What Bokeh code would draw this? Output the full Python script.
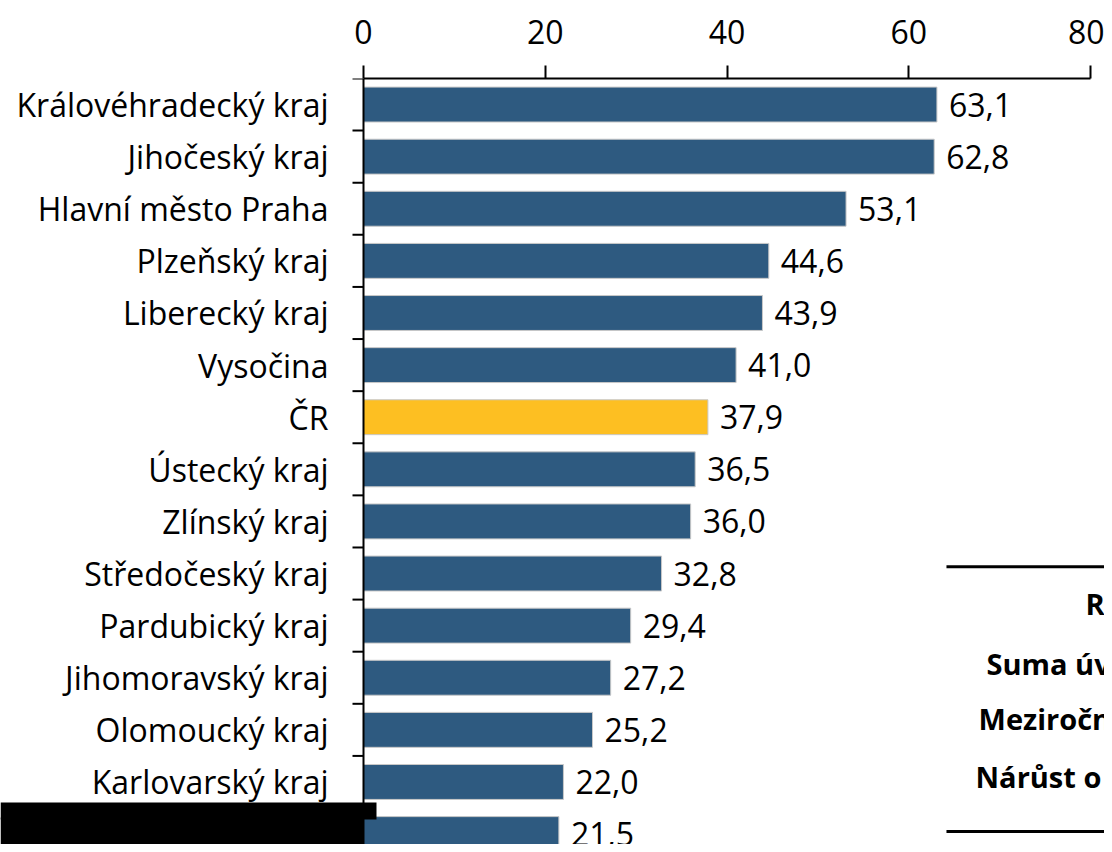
import math
from bokeh.plotting import figure
from bokeh.models import Range1d, LinearAxis, FixedTicker, BoxAnnotation, Span, ColumnDataSource
from bokeh.embed import file_html
from bokeh.resources import INLINE
from bokeh.core.properties import value

categories = ["Královéhradecký kraj", "Jihočeský kraj", "Hlavní město Praha", "Plzeňský kraj",
              "Liberecký kraj", "Vysočina", "ČR", "Ústecký kraj", "Zlínský kraj",
              "Středočeský kraj", "Pardubický kraj", "Jihomoravský kraj", "Olomoucký kraj",
              "Karlovarský kraj", "Moravskoslezský kraj"]
values = [63.1, 62.8, 53.1, 44.6, 43.9, 41.0, 37.9, 36.5, 36.0, 32.8, 29.4, 27.2, 25.2, 22.0, 21.5]
x_ticks = [0, 20, 40, 60, 80]
table_rows = ["Ro", "Suma úv", "Meziročn", "Nárůst o"]

FONT = "Open Sans"
BLUE = "#2E5A80"
YELLOW = "#FDBF22"

idx = list(range(len(categories)))
colors = [YELLOW if c == "ČR" else BLUE for c in categories]
labels = [f"{v:.1f}".replace(".", ",") for v in values]
src = ColumnDataSource(dict(y=idx, v=values, c=colors, lab=labels, name=categories,
                            zero=[0] * len(categories)))
bounds = [i - 0.5 for i in range(len(categories) + 1)]

W, H = 1104, 844
p = figure(width=W, height=H, output_backend="svg", toolbar_location=None,
           x_range=Range1d(-39.945, 81.54), y_range=Range1d(14.2, -0.5),
           x_axis_location=None, y_axis_location=None,
           min_border_left=0, min_border_top=78, min_border_bottom=0, min_border_right=0)
p.outline_line_color = None
p.xgrid.visible = False
p.ygrid.visible = False

# bars and value labels
p.hbar(y="y", left=0, right="v", height=0.67, fill_color="c", line_color="#C8C8C8",
       line_width=1, source=src)
p.text(x="v", y="y", text="lab", source=src, x_offset=12, text_align="left",
       text_baseline="middle", text_font=value(FONT), text_font_size="32px", text_color="#000000")

# category axis (line at x = 0, ticks at category boundaries, names on the left)
p.add_layout(Span(location=0, dimension="height", line_color="black", line_width=2))
p.ray(x=[0] * len(bounds), y=bounds, length=11, length_units="screen", angle=math.pi,
      line_color="black", line_width=2)
p.text(x="zero", y="y", text="name", source=src, x_offset=-35, text_align="right",
       text_baseline="middle", text_font=value(FONT), text_font_size="32px", text_color="#000000")

# top value axis
xa = LinearAxis(ticker=FixedTicker(ticks=x_ticks), bounds=(0, 80))
xa.axis_line_width = 2
xa.major_tick_line_width = 2
xa.major_tick_out = 13
xa.major_tick_in = 0
xa.minor_tick_line_color = None
xa.major_label_standoff = 22
xa.major_label_text_font = FONT
xa.major_label_text_font_size = "32px"
xa.major_label_text_color = "#000000"
p.add_layout(xa, "above")

# partial table on the right
p.line(x=[64.15, 90.0], y=[8.87, 8.87], line_color="black", line_width=3)
p.line(x=[64.15, 90.0], y=[13.95, 13.95], line_color="black", line_width=3)
row_x = [79.45, 68.56, 67.68, 67.35]
row_y = [9.58, 10.73, 11.78, 12.9]
p.text(x=row_x, y=row_y, text=table_rows, text_align="left", text_baseline="middle",
       text_font=value(FONT), text_font_size="29px", text_font_style="bold", text_color="black")

# redaction boxes
p.add_layout(BoxAnnotation(right=1.43, top=13.394, bottom=13.72, fill_color="black",
                           fill_alpha=1.0, line_color=None, level="overlay"))
p.add_layout(BoxAnnotation(right=0.03, top=13.68, fill_color="black",
                           fill_alpha=1.0, line_color=None, level="overlay"))

open("out.html", "w").write(file_html(p, INLINE))
